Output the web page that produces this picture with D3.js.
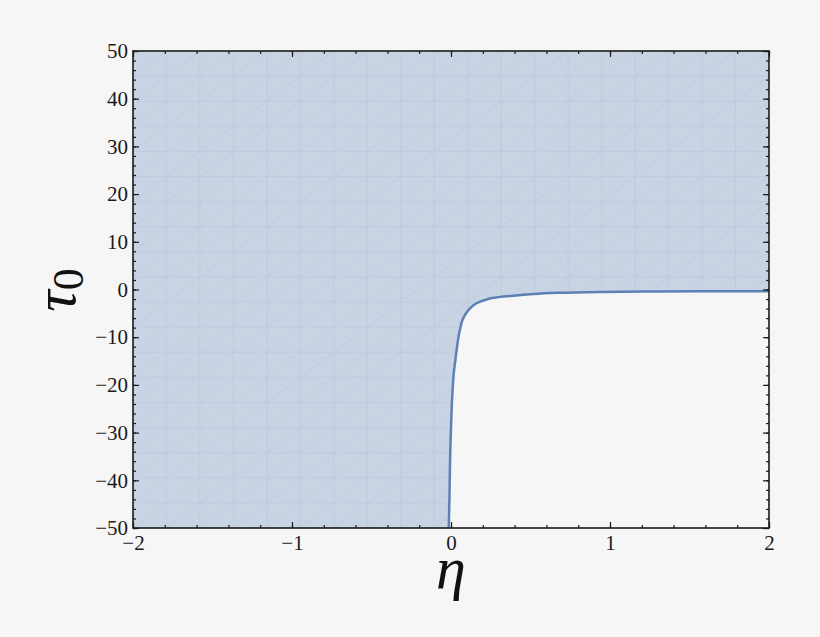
<!DOCTYPE html>
<html>
<head>
<meta charset="utf-8">
<script src="https://cdn.jsdelivr.net/npm/d3@7"></script>
<style>
  body { margin: 0; background: #f6f6f6; }
  svg { display: block; }
  .tick text { font-family: "Liberation Serif", "DejaVu Serif", serif; font-size: 21px; fill: #1a1a1a; }
  .tick line { stroke: #1a1a1a; stroke-width: 1.2; }
</style>
</head>
<body>
<div id="chart"></div>
<script>
// boundary curve tau0(eta)
const etaValues = [-0.014, -0.010, -0.006, -0.001, 0.004, 0.010, 0.016, 0.025, 0.036, 0.046, 0.057, 0.067,
                   0.085, 0.100, 0.125, 0.150, 0.180, 0.214, 0.260, 0.300, 0.390, 0.520, 0.670, 0.940,
                   1.300, 1.650, 2.000];
const tauValues = [-50, -44, -36, -30, -25, -21, -18, -15.5, -12.5, -10.2, -8.3, -6.9,
                   -5.5, -4.7, -3.8, -3.1, -2.6, -2.2, -1.8, -1.6, -1.3, -0.95, -0.7, -0.5,
                   -0.42, -0.38, -0.35];

const xMajor = [-2, -1, 0, 1, 2];
const yMajor = [-50, -40, -30, -20, -10, 0, 10, 20, 30, 40, 50];
const xMinor = d3.range(-2, 2.001, 0.2).map(v => +v.toFixed(1));
const yMinor = d3.range(-50, 51, 2);

const W = 820, H = 637;
const margin = {top: 51, right: 51, bottom: 109, left: 133};
const width = W - margin.left - margin.right;
const height = H - margin.top - margin.bottom;

const svg = d3.select("#chart").append("svg")
    .attr("width", W)
    .attr("height", H);

const g = svg.append("g")
    .attr("transform", `translate(${margin.left},${margin.top})`);

const x = d3.scaleLinear().domain([-2, 2]).range([0, width]);
const y = d3.scaleLinear().domain([-50, 50]).range([height, 0]);

const pts = etaValues.map((e, i) => ({eta: e, tau: tauValues[i]}));

const line = d3.line()
    .x(d => x(d.eta))
    .y(d => y(d.tau))
    .curve(d3.curveMonotoneX);

const curvePath = line(pts);
// region above/left of the curve
const regionPath = `M${x(-2)},${y(-50)}L` + curvePath.slice(1) +
    `L${x(2)},${y(50)}L${x(-2)},${y(50)}Z`;

g.append("clipPath").attr("id", "region-clip")
    .append("path").attr("d", regionPath);

g.append("path")
    .attr("d", regionPath)
    .attr("fill", "#5e81b5")
    .attr("fill-opacity", 0.3)
    .attr("stroke", "none");

// faint mesh seams inside the filled region
const mesh = g.append("g").attr("clip-path", "url(#region-clip)")
    .attr("stroke", "#5e81b5")
    .attr("stroke-opacity", 0.09)
    .attr("stroke-width", 0.8);
const n = 19;
for (let i = 1; i < n; i++) {
    mesh.append("line").attr("x1", width * i / n).attr("x2", width * i / n)
        .attr("y1", 0).attr("y2", height);
    mesh.append("line").attr("y1", height * i / n).attr("y2", height * i / n)
        .attr("x1", 0).attr("x2", width);
}
for (let k = -n; k < n; k++) {
    mesh.append("line")
        .attr("x1", width * k / n).attr("y1", height)
        .attr("x2", width * (k + n) / n).attr("y2", 0);
}

g.append("path")
    .attr("d", curvePath)
    .attr("fill", "none")
    .attr("stroke", "#5e81b5")
    .attr("stroke-width", 2.5);

// axes, ticks pointing inward
function addAxis(axis, transform) {
    const a = g.append("g").attr("transform", transform).call(axis);
    a.select(".domain").remove();
    a.attr("font-family", null).attr("font-size", null);
    return a;
}
const fmt = d3.format("d");

addAxis(d3.axisBottom(x).tickValues(xMinor).tickSize(-3).tickFormat(""), `translate(0,${height})`);
addAxis(d3.axisBottom(x).tickValues(xMajor).tickSize(-6).tickPadding(7).tickFormat(fmt), `translate(0,${height})`);
addAxis(d3.axisTop(x).tickValues(xMinor).tickSize(-3).tickFormat(""), "translate(0,0)");
addAxis(d3.axisTop(x).tickValues(xMajor).tickSize(-6).tickFormat(""), "translate(0,0)");

addAxis(d3.axisLeft(y).tickValues(yMinor).tickSize(-3).tickFormat(""), "translate(0,0)");
addAxis(d3.axisLeft(y).tickValues(yMajor).tickSize(-6).tickPadding(5).tickFormat(fmt), "translate(0,0)");
addAxis(d3.axisRight(y).tickValues(yMinor).tickSize(-3).tickFormat(""), `translate(${width},0)`);
addAxis(d3.axisRight(y).tickValues(yMajor).tickSize(-6).tickFormat(""), `translate(${width},0)`);

// frame
g.append("rect")
    .attr("width", width)
    .attr("height", height)
    .attr("fill", "none")
    .attr("stroke", "#1a1a1a")
    .attr("stroke-width", 1.6);

// axis labels
svg.append("text")
    .attr("x", margin.left + x(0))
    .attr("y", 588)
    .attr("text-anchor", "middle")
    .attr("font-family", "Liberation Serif, serif")
    .attr("font-style", "italic")
    .attr("font-size", 60)
    .attr("fill", "#111")
    .text("η");

const yl = svg.append("text")
    .attr("transform", "translate(75,290) rotate(-90)")
    .attr("text-anchor", "middle")
    .attr("font-family", "Liberation Serif, serif")
    .attr("font-size", 60)
    .attr("fill", "#111");
yl.append("tspan").attr("font-style", "italic").text("τ");
yl.append("tspan").attr("font-size", 44).attr("dy", 8).text("0");
</script>
</body>
</html>
